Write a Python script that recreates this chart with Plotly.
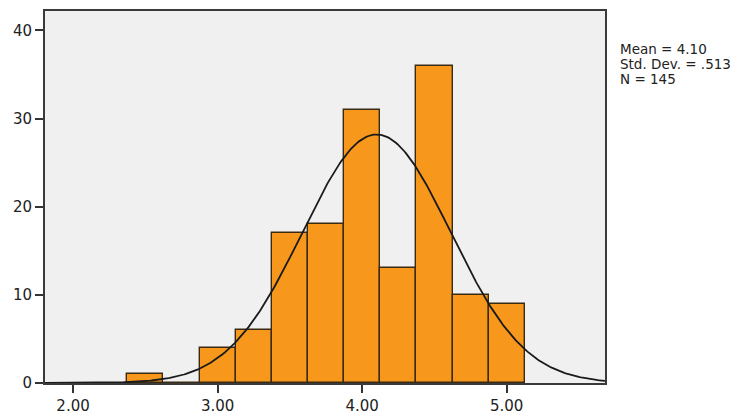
import numpy as np
import plotly.graph_objects as go

bin_starts = [2.375, 2.625, 2.875, 3.125, 3.375, 3.625, 3.875, 4.125, 4.375, 4.625, 4.875]
counts = [1, 0, 4, 6, 17, 18, 31, 13, 36, 10, 9]
bin_width = 0.25
mean = 4.10
std = 0.513
n = 145
x_ticks = [2.0, 3.0, 4.0, 5.0]
y_ticks = [0, 10, 20, 30, 40]
stat_lines = [f"Mean = {mean:.2f}", f"Std. Dev. = .{int(round(std * 1000))}", f"N = {n}"]

centers = [s + bin_width / 2 for s in bin_starts]
x_range = [1.806, 5.68]

xs = np.linspace(x_range[0], x_range[1], 400)
ys = n * bin_width / (std * np.sqrt(2 * np.pi)) * np.exp(-0.5 * ((xs - mean) / std) ** 2)

FONT = "DejaVu Sans, Verdana, sans-serif"

fig = go.Figure()
fig.add_trace(go.Bar(
    x=centers, y=counts, width=bin_width,
    marker=dict(color="#F7981D", line=dict(color="#3B2A12", width=1.4)),
    showlegend=False,
))
fig.add_trace(go.Scatter(
    x=xs, y=ys, mode="lines",
    line=dict(color="#1A1A1A", width=1.8),
    showlegend=False,
))

annotations = []
for i, txt in enumerate(stat_lines):
    annotations.append(dict(
        xref="paper", yref="paper", x=1.0, y=1.0,
        xshift=13, yshift=-37.5 - 15.2 * i,
        xanchor="left", yanchor="middle", align="left", showarrow=False,
        text=txt, font=dict(family=FONT, size=13.5, color="#222"),
    ))

fig.update_layout(
    width=744, height=409,
    margin=dict(l=37, r=147, t=1, b=34),
    paper_bgcolor="white",
    plot_bgcolor="#F0F0F0",
    bargap=0,
    font=dict(family=FONT, size=15, color="#222"),
    xaxis=dict(
        range=x_range, tickvals=x_ticks,
        ticktext=[f"{v:.2f}" for v in x_ticks],
        ticks="outside", ticklen=8, tickwidth=2, tickcolor="#333",
        showgrid=False, zeroline=False,
        showline=True, linecolor="#3a3a3a", linewidth=2, mirror=True,
    ),
    yaxis=dict(
        range=[0, 42.2], tickvals=y_ticks,
        ticks="outside", ticklen=8, tickwidth=2, tickcolor="#333",
        showgrid=False, zeroline=False,
        showline=True, linecolor="#3a3a3a", linewidth=2, mirror=True,
    ),
    annotations=annotations,
)

fig.write_html("out.html")
